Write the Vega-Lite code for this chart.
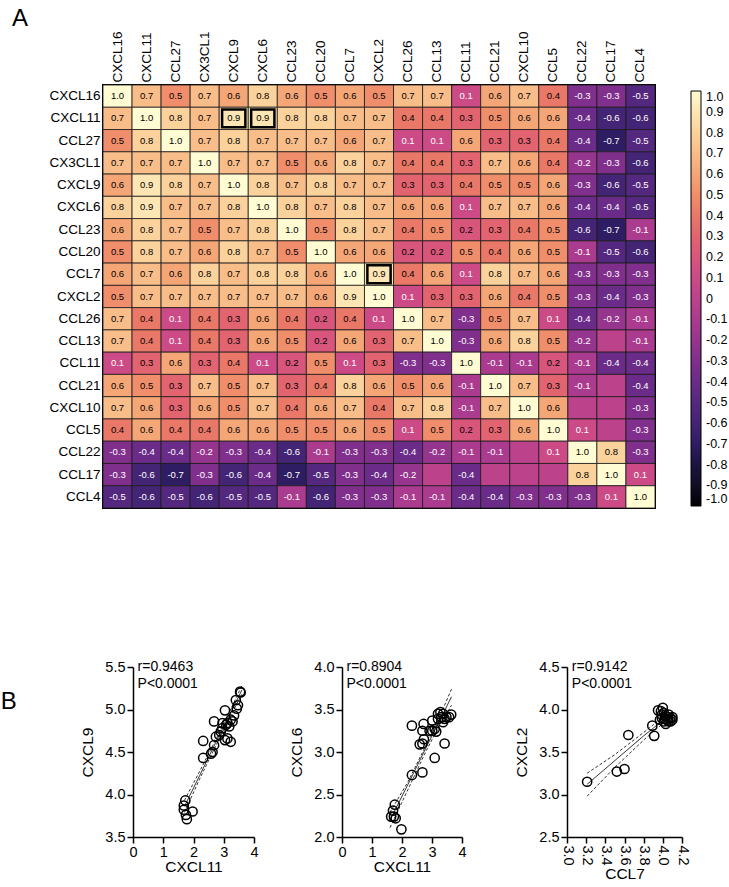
{
"$schema": "https://vega.github.io/schema/vega-lite/v6.json",
"padding": {"left": 0, "top": 5, "right": 5, "bottom": 5},
"background": "white",
"config": {
  "font": "Liberation Sans",
  "locale": {"number": {"decimal": ".", "thousands": ",", "grouping": [3], "currency": ["$", ""], "minus": "-"}},
  "axis": {"grid": false, "labelColor": "black", "titleColor": "black", "domainColor": "black", "tickColor": "black", "titleFontWeight": "normal"},
  "title": {"fontWeight": "normal", "color": "black"}
},
"datasets": {
"hm": [
{"r":"CXCL16","c":"CXCL16","v":1.0},{"r":"CXCL16","c":"CXCL11","v":0.7},{"r":"CXCL16","c":"CCL27","v":0.5},{"r":"CXCL16","c":"CX3CL1","v":0.7},{"r":"CXCL16","c":"CXCL9","v":0.6},{"r":"CXCL16","c":"CXCL6","v":0.8},{"r":"CXCL16","c":"CCL23","v":0.6},{"r":"CXCL16","c":"CCL20","v":0.5},{"r":"CXCL16","c":"CCL7","v":0.6},{"r":"CXCL16","c":"CXCL2","v":0.5},{"r":"CXCL16","c":"CCL26","v":0.7},{"r":"CXCL16","c":"CCL13","v":0.7},{"r":"CXCL16","c":"CCL11","v":0.1},{"r":"CXCL16","c":"CCL21","v":0.6},{"r":"CXCL16","c":"CXCL10","v":0.7},{"r":"CXCL16","c":"CCL5","v":0.4},{"r":"CXCL16","c":"CCL22","v":-0.3},{"r":"CXCL16","c":"CCL17","v":-0.3},{"r":"CXCL16","c":"CCL4","v":-0.5},
{"r":"CXCL11","c":"CXCL16","v":0.7},{"r":"CXCL11","c":"CXCL11","v":1.0},{"r":"CXCL11","c":"CCL27","v":0.8},{"r":"CXCL11","c":"CX3CL1","v":0.7},{"r":"CXCL11","c":"CXCL9","v":0.9},{"r":"CXCL11","c":"CXCL6","v":0.9},{"r":"CXCL11","c":"CCL23","v":0.8},{"r":"CXCL11","c":"CCL20","v":0.8},{"r":"CXCL11","c":"CCL7","v":0.7},{"r":"CXCL11","c":"CXCL2","v":0.7},{"r":"CXCL11","c":"CCL26","v":0.4},{"r":"CXCL11","c":"CCL13","v":0.4},{"r":"CXCL11","c":"CCL11","v":0.3},{"r":"CXCL11","c":"CCL21","v":0.5},{"r":"CXCL11","c":"CXCL10","v":0.6},{"r":"CXCL11","c":"CCL5","v":0.6},{"r":"CXCL11","c":"CCL22","v":-0.4},{"r":"CXCL11","c":"CCL17","v":-0.6},{"r":"CXCL11","c":"CCL4","v":-0.6},
{"r":"CCL27","c":"CXCL16","v":0.5},{"r":"CCL27","c":"CXCL11","v":0.8},{"r":"CCL27","c":"CCL27","v":1.0},{"r":"CCL27","c":"CX3CL1","v":0.7},{"r":"CCL27","c":"CXCL9","v":0.8},{"r":"CCL27","c":"CXCL6","v":0.7},{"r":"CCL27","c":"CCL23","v":0.7},{"r":"CCL27","c":"CCL20","v":0.7},{"r":"CCL27","c":"CCL7","v":0.6},{"r":"CCL27","c":"CXCL2","v":0.7},{"r":"CCL27","c":"CCL26","v":0.1},{"r":"CCL27","c":"CCL13","v":0.1},{"r":"CCL27","c":"CCL11","v":0.6},{"r":"CCL27","c":"CCL21","v":0.3},{"r":"CCL27","c":"CXCL10","v":0.3},{"r":"CCL27","c":"CCL5","v":0.4},{"r":"CCL27","c":"CCL22","v":-0.4},{"r":"CCL27","c":"CCL17","v":-0.7},{"r":"CCL27","c":"CCL4","v":-0.5},
{"r":"CX3CL1","c":"CXCL16","v":0.7},{"r":"CX3CL1","c":"CXCL11","v":0.7},{"r":"CX3CL1","c":"CCL27","v":0.7},{"r":"CX3CL1","c":"CX3CL1","v":1.0},{"r":"CX3CL1","c":"CXCL9","v":0.7},{"r":"CX3CL1","c":"CXCL6","v":0.7},{"r":"CX3CL1","c":"CCL23","v":0.5},{"r":"CX3CL1","c":"CCL20","v":0.6},{"r":"CX3CL1","c":"CCL7","v":0.8},{"r":"CX3CL1","c":"CXCL2","v":0.7},{"r":"CX3CL1","c":"CCL26","v":0.4},{"r":"CX3CL1","c":"CCL13","v":0.4},{"r":"CX3CL1","c":"CCL11","v":0.3},{"r":"CX3CL1","c":"CCL21","v":0.7},{"r":"CX3CL1","c":"CXCL10","v":0.6},{"r":"CX3CL1","c":"CCL5","v":0.4},{"r":"CX3CL1","c":"CCL22","v":-0.2},{"r":"CX3CL1","c":"CCL17","v":-0.3},{"r":"CX3CL1","c":"CCL4","v":-0.6},
{"r":"CXCL9","c":"CXCL16","v":0.6},{"r":"CXCL9","c":"CXCL11","v":0.9},{"r":"CXCL9","c":"CCL27","v":0.8},{"r":"CXCL9","c":"CX3CL1","v":0.7},{"r":"CXCL9","c":"CXCL9","v":1.0},{"r":"CXCL9","c":"CXCL6","v":0.8},{"r":"CXCL9","c":"CCL23","v":0.7},{"r":"CXCL9","c":"CCL20","v":0.8},{"r":"CXCL9","c":"CCL7","v":0.7},{"r":"CXCL9","c":"CXCL2","v":0.7},{"r":"CXCL9","c":"CCL26","v":0.3},{"r":"CXCL9","c":"CCL13","v":0.3},{"r":"CXCL9","c":"CCL11","v":0.4},{"r":"CXCL9","c":"CCL21","v":0.5},{"r":"CXCL9","c":"CXCL10","v":0.5},{"r":"CXCL9","c":"CCL5","v":0.6},{"r":"CXCL9","c":"CCL22","v":-0.3},{"r":"CXCL9","c":"CCL17","v":-0.6},{"r":"CXCL9","c":"CCL4","v":-0.5},
{"r":"CXCL6","c":"CXCL16","v":0.8},{"r":"CXCL6","c":"CXCL11","v":0.9},{"r":"CXCL6","c":"CCL27","v":0.7},{"r":"CXCL6","c":"CX3CL1","v":0.7},{"r":"CXCL6","c":"CXCL9","v":0.8},{"r":"CXCL6","c":"CXCL6","v":1.0},{"r":"CXCL6","c":"CCL23","v":0.8},{"r":"CXCL6","c":"CCL20","v":0.7},{"r":"CXCL6","c":"CCL7","v":0.8},{"r":"CXCL6","c":"CXCL2","v":0.7},{"r":"CXCL6","c":"CCL26","v":0.6},{"r":"CXCL6","c":"CCL13","v":0.6},{"r":"CXCL6","c":"CCL11","v":0.1},{"r":"CXCL6","c":"CCL21","v":0.7},{"r":"CXCL6","c":"CXCL10","v":0.7},{"r":"CXCL6","c":"CCL5","v":0.6},{"r":"CXCL6","c":"CCL22","v":-0.4},{"r":"CXCL6","c":"CCL17","v":-0.4},{"r":"CXCL6","c":"CCL4","v":-0.5},
{"r":"CCL23","c":"CXCL16","v":0.6},{"r":"CCL23","c":"CXCL11","v":0.8},{"r":"CCL23","c":"CCL27","v":0.7},{"r":"CCL23","c":"CX3CL1","v":0.5},{"r":"CCL23","c":"CXCL9","v":0.7},{"r":"CCL23","c":"CXCL6","v":0.8},{"r":"CCL23","c":"CCL23","v":1.0},{"r":"CCL23","c":"CCL20","v":0.5},{"r":"CCL23","c":"CCL7","v":0.8},{"r":"CCL23","c":"CXCL2","v":0.7},{"r":"CCL23","c":"CCL26","v":0.4},{"r":"CCL23","c":"CCL13","v":0.5},{"r":"CCL23","c":"CCL11","v":0.2},{"r":"CCL23","c":"CCL21","v":0.3},{"r":"CCL23","c":"CXCL10","v":0.4},{"r":"CCL23","c":"CCL5","v":0.5},{"r":"CCL23","c":"CCL22","v":-0.6},{"r":"CCL23","c":"CCL17","v":-0.7},{"r":"CCL23","c":"CCL4","v":-0.1},
{"r":"CCL20","c":"CXCL16","v":0.5},{"r":"CCL20","c":"CXCL11","v":0.8},{"r":"CCL20","c":"CCL27","v":0.7},{"r":"CCL20","c":"CX3CL1","v":0.6},{"r":"CCL20","c":"CXCL9","v":0.8},{"r":"CCL20","c":"CXCL6","v":0.7},{"r":"CCL20","c":"CCL23","v":0.5},{"r":"CCL20","c":"CCL20","v":1.0},{"r":"CCL20","c":"CCL7","v":0.6},{"r":"CCL20","c":"CXCL2","v":0.6},{"r":"CCL20","c":"CCL26","v":0.2},{"r":"CCL20","c":"CCL13","v":0.2},{"r":"CCL20","c":"CCL11","v":0.5},{"r":"CCL20","c":"CCL21","v":0.4},{"r":"CCL20","c":"CXCL10","v":0.6},{"r":"CCL20","c":"CCL5","v":0.5},{"r":"CCL20","c":"CCL22","v":-0.1},{"r":"CCL20","c":"CCL17","v":-0.5},{"r":"CCL20","c":"CCL4","v":-0.6},
{"r":"CCL7","c":"CXCL16","v":0.6},{"r":"CCL7","c":"CXCL11","v":0.7},{"r":"CCL7","c":"CCL27","v":0.6},{"r":"CCL7","c":"CX3CL1","v":0.8},{"r":"CCL7","c":"CXCL9","v":0.7},{"r":"CCL7","c":"CXCL6","v":0.8},{"r":"CCL7","c":"CCL23","v":0.8},{"r":"CCL7","c":"CCL20","v":0.6},{"r":"CCL7","c":"CCL7","v":1.0},{"r":"CCL7","c":"CXCL2","v":0.9},{"r":"CCL7","c":"CCL26","v":0.4},{"r":"CCL7","c":"CCL13","v":0.6},{"r":"CCL7","c":"CCL11","v":0.1},{"r":"CCL7","c":"CCL21","v":0.8},{"r":"CCL7","c":"CXCL10","v":0.7},{"r":"CCL7","c":"CCL5","v":0.6},{"r":"CCL7","c":"CCL22","v":-0.3},{"r":"CCL7","c":"CCL17","v":-0.3},{"r":"CCL7","c":"CCL4","v":-0.3},
{"r":"CXCL2","c":"CXCL16","v":0.5},{"r":"CXCL2","c":"CXCL11","v":0.7},{"r":"CXCL2","c":"CCL27","v":0.7},{"r":"CXCL2","c":"CX3CL1","v":0.7},{"r":"CXCL2","c":"CXCL9","v":0.7},{"r":"CXCL2","c":"CXCL6","v":0.7},{"r":"CXCL2","c":"CCL23","v":0.7},{"r":"CXCL2","c":"CCL20","v":0.6},{"r":"CXCL2","c":"CCL7","v":0.9},{"r":"CXCL2","c":"CXCL2","v":1.0},{"r":"CXCL2","c":"CCL26","v":0.1},{"r":"CXCL2","c":"CCL13","v":0.3},{"r":"CXCL2","c":"CCL11","v":0.3},{"r":"CXCL2","c":"CCL21","v":0.6},{"r":"CXCL2","c":"CXCL10","v":0.4},{"r":"CXCL2","c":"CCL5","v":0.5},{"r":"CXCL2","c":"CCL22","v":-0.3},{"r":"CXCL2","c":"CCL17","v":-0.4},{"r":"CXCL2","c":"CCL4","v":-0.3},
{"r":"CCL26","c":"CXCL16","v":0.7},{"r":"CCL26","c":"CXCL11","v":0.4},{"r":"CCL26","c":"CCL27","v":0.1},{"r":"CCL26","c":"CX3CL1","v":0.4},{"r":"CCL26","c":"CXCL9","v":0.3},{"r":"CCL26","c":"CXCL6","v":0.6},{"r":"CCL26","c":"CCL23","v":0.4},{"r":"CCL26","c":"CCL20","v":0.2},{"r":"CCL26","c":"CCL7","v":0.4},{"r":"CCL26","c":"CXCL2","v":0.1},{"r":"CCL26","c":"CCL26","v":1.0},{"r":"CCL26","c":"CCL13","v":0.7},{"r":"CCL26","c":"CCL11","v":-0.3},{"r":"CCL26","c":"CCL21","v":0.5},{"r":"CCL26","c":"CXCL10","v":0.7},{"r":"CCL26","c":"CCL5","v":0.1},{"r":"CCL26","c":"CCL22","v":-0.4},{"r":"CCL26","c":"CCL17","v":-0.2},{"r":"CCL26","c":"CCL4","v":-0.1},
{"r":"CCL13","c":"CXCL16","v":0.7},{"r":"CCL13","c":"CXCL11","v":0.4},{"r":"CCL13","c":"CCL27","v":0.1},{"r":"CCL13","c":"CX3CL1","v":0.4},{"r":"CCL13","c":"CXCL9","v":0.3},{"r":"CCL13","c":"CXCL6","v":0.6},{"r":"CCL13","c":"CCL23","v":0.5},{"r":"CCL13","c":"CCL20","v":0.2},{"r":"CCL13","c":"CCL7","v":0.6},{"r":"CCL13","c":"CXCL2","v":0.3},{"r":"CCL13","c":"CCL26","v":0.7},{"r":"CCL13","c":"CCL13","v":1.0},{"r":"CCL13","c":"CCL11","v":-0.3},{"r":"CCL13","c":"CCL21","v":0.6},{"r":"CCL13","c":"CXCL10","v":0.8},{"r":"CCL13","c":"CCL5","v":0.5},{"r":"CCL13","c":"CCL22","v":-0.2},{"r":"CCL13","c":"CCL17","v":0,"b":true},{"r":"CCL13","c":"CCL4","v":-0.1},
{"r":"CCL11","c":"CXCL16","v":0.1},{"r":"CCL11","c":"CXCL11","v":0.3},{"r":"CCL11","c":"CCL27","v":0.6},{"r":"CCL11","c":"CX3CL1","v":0.3},{"r":"CCL11","c":"CXCL9","v":0.4},{"r":"CCL11","c":"CXCL6","v":0.1},{"r":"CCL11","c":"CCL23","v":0.2},{"r":"CCL11","c":"CCL20","v":0.5},{"r":"CCL11","c":"CCL7","v":0.1},{"r":"CCL11","c":"CXCL2","v":0.3},{"r":"CCL11","c":"CCL26","v":-0.3},{"r":"CCL11","c":"CCL13","v":-0.3},{"r":"CCL11","c":"CCL11","v":1.0},{"r":"CCL11","c":"CCL21","v":-0.1},{"r":"CCL11","c":"CXCL10","v":-0.1},{"r":"CCL11","c":"CCL5","v":0.2},{"r":"CCL11","c":"CCL22","v":-0.1},{"r":"CCL11","c":"CCL17","v":-0.4},{"r":"CCL11","c":"CCL4","v":-0.4},
{"r":"CCL21","c":"CXCL16","v":0.6},{"r":"CCL21","c":"CXCL11","v":0.5},{"r":"CCL21","c":"CCL27","v":0.3},{"r":"CCL21","c":"CX3CL1","v":0.7},{"r":"CCL21","c":"CXCL9","v":0.5},{"r":"CCL21","c":"CXCL6","v":0.7},{"r":"CCL21","c":"CCL23","v":0.3},{"r":"CCL21","c":"CCL20","v":0.4},{"r":"CCL21","c":"CCL7","v":0.8},{"r":"CCL21","c":"CXCL2","v":0.6},{"r":"CCL21","c":"CCL26","v":0.5},{"r":"CCL21","c":"CCL13","v":0.6},{"r":"CCL21","c":"CCL11","v":-0.1},{"r":"CCL21","c":"CCL21","v":1.0},{"r":"CCL21","c":"CXCL10","v":0.7},{"r":"CCL21","c":"CCL5","v":0.3},{"r":"CCL21","c":"CCL22","v":-0.1},{"r":"CCL21","c":"CCL17","v":0,"b":true},{"r":"CCL21","c":"CCL4","v":-0.4},
{"r":"CXCL10","c":"CXCL16","v":0.7},{"r":"CXCL10","c":"CXCL11","v":0.6},{"r":"CXCL10","c":"CCL27","v":0.3},{"r":"CXCL10","c":"CX3CL1","v":0.6},{"r":"CXCL10","c":"CXCL9","v":0.5},{"r":"CXCL10","c":"CXCL6","v":0.7},{"r":"CXCL10","c":"CCL23","v":0.4},{"r":"CXCL10","c":"CCL20","v":0.6},{"r":"CXCL10","c":"CCL7","v":0.7},{"r":"CXCL10","c":"CXCL2","v":0.4},{"r":"CXCL10","c":"CCL26","v":0.7},{"r":"CXCL10","c":"CCL13","v":0.8},{"r":"CXCL10","c":"CCL11","v":-0.1},{"r":"CXCL10","c":"CCL21","v":0.7},{"r":"CXCL10","c":"CXCL10","v":1.0},{"r":"CXCL10","c":"CCL5","v":0.6},{"r":"CXCL10","c":"CCL22","v":0,"b":true},{"r":"CXCL10","c":"CCL17","v":0,"b":true},{"r":"CXCL10","c":"CCL4","v":-0.3},
{"r":"CCL5","c":"CXCL16","v":0.4},{"r":"CCL5","c":"CXCL11","v":0.6},{"r":"CCL5","c":"CCL27","v":0.4},{"r":"CCL5","c":"CX3CL1","v":0.4},{"r":"CCL5","c":"CXCL9","v":0.6},{"r":"CCL5","c":"CXCL6","v":0.6},{"r":"CCL5","c":"CCL23","v":0.5},{"r":"CCL5","c":"CCL20","v":0.5},{"r":"CCL5","c":"CCL7","v":0.6},{"r":"CCL5","c":"CXCL2","v":0.5},{"r":"CCL5","c":"CCL26","v":0.1},{"r":"CCL5","c":"CCL13","v":0.5},{"r":"CCL5","c":"CCL11","v":0.2},{"r":"CCL5","c":"CCL21","v":0.3},{"r":"CCL5","c":"CXCL10","v":0.6},{"r":"CCL5","c":"CCL5","v":1.0},{"r":"CCL5","c":"CCL22","v":0.1},{"r":"CCL5","c":"CCL17","v":0,"b":true},{"r":"CCL5","c":"CCL4","v":-0.3},
{"r":"CCL22","c":"CXCL16","v":-0.3},{"r":"CCL22","c":"CXCL11","v":-0.4},{"r":"CCL22","c":"CCL27","v":-0.4},{"r":"CCL22","c":"CX3CL1","v":-0.2},{"r":"CCL22","c":"CXCL9","v":-0.3},{"r":"CCL22","c":"CXCL6","v":-0.4},{"r":"CCL22","c":"CCL23","v":-0.6},{"r":"CCL22","c":"CCL20","v":-0.1},{"r":"CCL22","c":"CCL7","v":-0.3},{"r":"CCL22","c":"CXCL2","v":-0.3},{"r":"CCL22","c":"CCL26","v":-0.4},{"r":"CCL22","c":"CCL13","v":-0.2},{"r":"CCL22","c":"CCL11","v":-0.1},{"r":"CCL22","c":"CCL21","v":-0.1},{"r":"CCL22","c":"CXCL10","v":0,"b":true},{"r":"CCL22","c":"CCL5","v":0.1},{"r":"CCL22","c":"CCL22","v":1.0},{"r":"CCL22","c":"CCL17","v":0.8},{"r":"CCL22","c":"CCL4","v":-0.3},
{"r":"CCL17","c":"CXCL16","v":-0.3},{"r":"CCL17","c":"CXCL11","v":-0.6},{"r":"CCL17","c":"CCL27","v":-0.7},{"r":"CCL17","c":"CX3CL1","v":-0.3},{"r":"CCL17","c":"CXCL9","v":-0.6},{"r":"CCL17","c":"CXCL6","v":-0.4},{"r":"CCL17","c":"CCL23","v":-0.7},{"r":"CCL17","c":"CCL20","v":-0.5},{"r":"CCL17","c":"CCL7","v":-0.3},{"r":"CCL17","c":"CXCL2","v":-0.4},{"r":"CCL17","c":"CCL26","v":-0.2},{"r":"CCL17","c":"CCL13","v":0,"b":true},{"r":"CCL17","c":"CCL11","v":-0.4},{"r":"CCL17","c":"CCL21","v":0,"b":true},{"r":"CCL17","c":"CXCL10","v":0,"b":true},{"r":"CCL17","c":"CCL5","v":0,"b":true},{"r":"CCL17","c":"CCL22","v":0.8},{"r":"CCL17","c":"CCL17","v":1.0},{"r":"CCL17","c":"CCL4","v":0.1},
{"r":"CCL4","c":"CXCL16","v":-0.5},{"r":"CCL4","c":"CXCL11","v":-0.6},{"r":"CCL4","c":"CCL27","v":-0.5},{"r":"CCL4","c":"CX3CL1","v":-0.6},{"r":"CCL4","c":"CXCL9","v":-0.5},{"r":"CCL4","c":"CXCL6","v":-0.5},{"r":"CCL4","c":"CCL23","v":-0.1},{"r":"CCL4","c":"CCL20","v":-0.6},{"r":"CCL4","c":"CCL7","v":-0.3},{"r":"CCL4","c":"CXCL2","v":-0.3},{"r":"CCL4","c":"CCL26","v":-0.1},{"r":"CCL4","c":"CCL13","v":-0.1},{"r":"CCL4","c":"CCL11","v":-0.4},{"r":"CCL4","c":"CCL21","v":-0.4},{"r":"CCL4","c":"CXCL10","v":-0.3},{"r":"CCL4","c":"CCL5","v":-0.3},{"r":"CCL4","c":"CCL22","v":-0.3},{"r":"CCL4","c":"CCL17","v":0.1},{"r":"CCL4","c":"CCL4","v":1.0}
],
"hl": [{"r":"CXCL11","c":"CXCL9"},{"r":"CXCL11","c":"CXCL6"},{"r":"CCL7","c":"CXCL2"}],
"s1": [{"x":1.68,"y":3.87},{"x":1.68,"y":3.82},{"x":1.73,"y":3.93},{"x":1.75,"y":3.76},{"x":1.78,"y":3.71},{"x":1.97,"y":3.8},{"x":2.32,"y":4.43},{"x":2.32,"y":4.63},{"x":2.58,"y":4.48},{"x":2.63,"y":4.5},{"x":2.68,"y":4.58},{"x":2.74,"y":4.68},{"x":2.68,"y":4.86},{"x":2.85,"y":4.7},{"x":2.9,"y":4.74},{"x":2.96,"y":4.84},{"x":3.04,"y":4.99},{"x":3.04,"y":4.64},{"x":3.12,"y":4.66},{"x":3.23,"y":4.62},{"x":3.12,"y":4.84},{"x":3.18,"y":4.8},{"x":3.23,"y":4.88},{"x":3.29,"y":4.86},{"x":3.34,"y":4.93},{"x":3.43,"y":5.01},{"x":3.47,"y":5.05},{"x":3.4,"y":5.11},{"x":3.54,"y":5.21},{"x":3.56,"y":5.2},{"x":2.95,"y":4.78},{"x":3.08,"y":4.82}],
"s1l": [{"s":"fit","x":1.7,"y":3.86},{"s":"fit","x":2.2,"y":4.22},{"s":"fit","x":2.8,"y":4.66},{"s":"fit","x":3.2,"y":4.94},{"s":"fit","x":3.6,"y":5.23},
 {"s":"up","x":1.7,"y":3.93},{"s":"up","x":2.2,"y":4.27},{"s":"up","x":2.8,"y":4.69},{"s":"up","x":3.2,"y":4.98},{"s":"up","x":3.6,"y":5.28},
 {"s":"lo","x":1.7,"y":3.79},{"s":"lo","x":2.2,"y":4.18},{"s":"lo","x":2.8,"y":4.62},{"s":"lo","x":3.2,"y":4.91},{"s":"lo","x":3.6,"y":5.18}],
"t1": [{"x":0.15,"y":5.5,"t":"r=0.9463"},{"x":0.15,"y":5.3,"t":"P<0.0001"}],
"s2": [{"x":1.64,"y":2.24},{"x":1.73,"y":2.24},{"x":1.79,"y":2.22},{"x":1.7,"y":2.31},{"x":1.76,"y":2.38},{"x":1.98,"y":2.09},{"x":2.33,"y":2.73},{"x":2.33,"y":3.31},{"x":2.68,"y":2.76},{"x":2.59,"y":3.09},{"x":2.68,"y":3.1},{"x":2.73,"y":3.15},{"x":2.68,"y":3.25},{"x":2.72,"y":3.33},{"x":2.92,"y":3.25},{"x":3.01,"y":3.25},{"x":3.09,"y":3.27},{"x":3.01,"y":3.37},{"x":3.09,"y":2.93},{"x":3.14,"y":3.24},{"x":3.2,"y":3.45},{"x":3.28,"y":3.47},{"x":3.31,"y":3.41},{"x":3.37,"y":3.35},{"x":3.42,"y":3.39},{"x":3.48,"y":3.41},{"x":3.57,"y":3.41},{"x":3.64,"y":3.44},{"x":3.42,"y":3.1},{"x":3.2,"y":3.39},{"x":3.37,"y":3.45}],
"s2l": [{"s":"fit","x":1.6,"y":2.2},{"s":"fit","x":2.2,"y":2.62},{"s":"fit","x":2.8,"y":3.05},{"s":"fit","x":3.2,"y":3.33},{"s":"fit","x":3.65,"y":3.65},
 {"s":"up","x":1.6,"y":2.29},{"s":"up","x":2.2,"y":2.65},{"s":"up","x":2.8,"y":3.08},{"s":"up","x":3.2,"y":3.37},{"s":"up","x":3.65,"y":3.74},
 {"s":"lo","x":1.6,"y":2.11},{"s":"lo","x":2.2,"y":2.56},{"s":"lo","x":2.8,"y":3.01},{"s":"lo","x":3.2,"y":3.28},{"s":"lo","x":3.65,"y":3.55}],
"t2": [{"x":0.15,"y":4.0,"t":"r=0.8904"},{"x":0.15,"y":3.8,"t":"P<0.0001"}],
"s3": [{"x":3.21,"y":3.15},{"x":3.52,"y":3.27},{"x":3.6,"y":3.3},{"x":3.64,"y":3.7},{"x":3.91,"y":3.69},{"x":3.89,"y":3.81},{"x":3.95,"y":3.99},{"x":4.0,"y":4.02},{"x":3.98,"y":3.98},{"x":3.99,"y":3.9},{"x":4.01,"y":3.86},{"x":4.03,"y":3.92},{"x":4.05,"y":3.88},{"x":4.06,"y":3.94},{"x":4.08,"y":3.9},{"x":4.1,"y":3.91},{"x":4.03,"y":3.83},{"x":3.99,"y":3.94},{"x":4.06,"y":3.86},{"x":4.01,"y":3.96},{"x":4.05,"y":3.91},{"x":4.08,"y":3.86},{"x":3.97,"y":3.88},{"x":4.1,"y":3.88},{"x":4.02,"y":3.89}],
"s3l": [{"s":"fit","x":3.21,"y":3.12},{"s":"fit","x":3.5,"y":3.4},{"s":"fit","x":3.8,"y":3.69},{"s":"fit","x":3.9,"y":3.78},{"s":"fit","x":4.05,"y":3.93},
 {"s":"up","x":3.21,"y":3.25},{"s":"up","x":3.5,"y":3.47},{"s":"up","x":3.8,"y":3.73},{"s":"up","x":3.9,"y":3.82},{"s":"up","x":4.05,"y":3.97},
 {"s":"lo","x":3.21,"y":2.98},{"s":"lo","x":3.5,"y":3.32},{"s":"lo","x":3.8,"y":3.64},{"s":"lo","x":3.9,"y":3.74},{"s":"lo","x":4.05,"y":3.88}],
"t3": [{"x":3.05,"y":4.5,"t":"r=0.9142"},{"x":3.05,"y":4.3,"t":"P<0.0001"}]
},
"columns": 1,
"align": "none",
"spacing": 145,
"resolve": {"scale": {"color": "independent"}, "legend": {"color": "independent"}},
"concat": [
{
  "title": {"text": "A", "anchor": "start", "fontSize": 24, "dx": 11, "offset": 0},
  "width": 552, "height": 423,
  "view": {"stroke": "black", "strokeWidth": 2},
  "encoding": {
    "x": {"field": "c", "type": "nominal", "sort": ["CXCL16","CXCL11","CCL27","CX3CL1","CXCL9","CXCL6","CCL23","CCL20","CCL7","CXCL2","CCL26","CCL13","CCL11","CCL21","CXCL10","CCL5","CCL22","CCL17","CCL4"],
      "axis": {"orient": "top", "labelAngle": -90, "domain": false, "ticks": false, "labelFontSize": 13.5, "labelPadding": 3, "title": null}},
    "y": {"field": "r", "type": "nominal", "sort": ["CXCL16","CXCL11","CCL27","CX3CL1","CXCL9","CXCL6","CCL23","CCL20","CCL7","CXCL2","CCL26","CCL13","CCL11","CCL21","CXCL10","CCL5","CCL22","CCL17","CCL4"],
      "axis": {"domain": false, "ticks": false, "labelFontSize": 13.5, "labelPadding": 3, "title": null, "minExtent": 102}}
  },
  "layer": [
    {"data": {"name": "hm"}, "mark": {"type": "rect", "stroke": "#1a1a1a", "strokeWidth": 0.8},
     "encoding": {"color": {"field": "v", "type": "quantitative",
       "scale": {"domain": [-1,-0.8,-0.7,-0.6,-0.5,-0.4,-0.3,-0.2,-0.1,0,0.1,0.2,0.3,0.4,0.5,0.6,0.7,0.8,0.9,1],
                 "range": ["#000004","#1c1440","#2f1d63","#432475","#55287f","#6a2c88","#80308c","#96358e","#ab3b8e","#bd428c","#cc4a86","#d8567c","#e26470","#ea7868","#f08e6b","#f4a677","#f8bd89","#fbd29c","#fde6b4","#fffbd2"]},
       "legend": {"orient": "right", "offset": 30, "padding": 6, "direction": "vertical", "gradientLength": 415, "gradientThickness": 10, "title": null,
         "values": [1,0.9,0.8,0.7,0.6,0.5,0.4,0.3,0.2,0.1,0,-0.1,-0.2,-0.3,-0.4,-0.5,-0.6,-0.7,-0.8,-0.9,-1],
         "labelExpr": "datum.value === 0 ? '0' : replace(format(datum.value, '.1f'), '\u2212', '-')",
         "labelFontSize": 12.5, "labelOffset": 5, "labelOverlap": false, "labelBaseline": "middle", "labelColor": "black",
         "gradientStrokeColor": "black", "gradientStrokeWidth": 1}}}},
    {"data": {"name": "hm"}, "mark": {"type": "text", "fontSize": 9.5},
     "encoding": {"text": {"condition": {"test": "datum.b", "value": ""}, "field": "v", "format": ".1f"},
                  "color": {"condition": {"test": "datum.v >= 0.15", "value": "black"}, "value": "white"}}},
    {"data": {"name": "hl"}, "mark": {"type": "rect", "fill": null, "stroke": "black", "strokeWidth": 2.5, "width": {"band": 0.8}, "height": {"band": 0.8}}}
  ]
},
{
  "title": {"text": "B", "anchor": "start", "fontSize": 24, "dx": -80, "dy": 55, "offset": 0},
  "spacing": 47,
  "hconcat": [
    {"spacing": 30, "hconcat": [
      {"width": 151, "height": 170, "view": {"stroke": null},
       "encoding": {
         "x": {"field": "x", "type": "quantitative", "scale": {"domain": [0, 4], "nice": false, "range": [30, 151]},
               "axis": {"values": [0,1,2,3,4], "title": "CXCL11", "labelFontSize": 14.5, "titleFontSize": 15.5, "domainWidth": 1.5, "tickWidth": 1.5, "tickSize": 6, "labelPadding": 2, "titlePadding": 1, "labelFlush": false}},
         "y": {"field": "y", "type": "quantitative", "scale": {"domain": [3.5, 5.5], "nice": false, "zero": false},
               "axis": {"values": [3.5,4,4.5,5,5.5], "format": ".1f", "title": "CXCL9", "offset": -30, "labelFontSize": 14.5, "titleFontSize": 15.5, "domainWidth": 1.5, "tickWidth": 1.5, "tickSize": 6, "labelPadding": 2, "minExtent": 28, "titlePadding": 9, "labelFlush": false}}
       },
       "layer": [
         {"data": {"name": "s1l"}, "transform": [{"filter": "datum.s != 'fit'"}], "mark": {"type": "line", "color": "black", "strokeWidth": 0.8, "strokeDash": [3, 2]}, "encoding": {"detail": {"field": "s"}}},
         {"data": {"name": "s1l"}, "transform": [{"filter": "datum.s == 'fit'"}], "mark": {"type": "line", "color": "black", "strokeWidth": 0.8}, "encoding": {}},
         {"data": {"name": "s1"}, "mark": {"type": "point", "shape": "circle", "filled": false, "color": "black", "size": 85, "strokeWidth": 1.5, "opacity": 1}},
         {"data": {"name": "t1"}, "mark": {"type": "text", "align": "left", "baseline": "middle", "fontSize": 14, "color": "black"}, "encoding": {"text": {"field": "t"}}}
       ]},
      {"width": 120, "height": 170, "view": {"stroke": null},
       "encoding": {
         "x": {"field": "x", "type": "quantitative", "scale": {"domain": [0, 4], "nice": false},
               "axis": {"values": [0,1,2,3,4], "title": "CXCL11", "labelFontSize": 14.5, "titleFontSize": 15.5, "domainWidth": 1.5, "tickWidth": 1.5, "tickSize": 6, "labelPadding": 2, "titlePadding": 1, "labelFlush": false}},
         "y": {"field": "y", "type": "quantitative", "scale": {"domain": [2, 4], "nice": false, "zero": false},
               "axis": {"values": [2,2.5,3,3.5,4], "format": ".1f", "title": "CXCL6", "labelFontSize": 14.5, "titleFontSize": 15.5, "domainWidth": 1.5, "tickWidth": 1.5, "tickSize": 6, "labelPadding": 2, "minExtent": 28, "titlePadding": 9, "labelFlush": false}}
       },
       "layer": [
         {"data": {"name": "s2l"}, "transform": [{"filter": "datum.s != 'fit'"}], "mark": {"type": "line", "color": "black", "strokeWidth": 0.8, "strokeDash": [3, 2]}, "encoding": {"detail": {"field": "s"}}},
         {"data": {"name": "s2l"}, "transform": [{"filter": "datum.s == 'fit'"}], "mark": {"type": "line", "color": "black", "strokeWidth": 0.8}, "encoding": {}},
         {"data": {"name": "s2"}, "mark": {"type": "point", "shape": "circle", "filled": false, "color": "black", "size": 85, "strokeWidth": 1.5, "opacity": 1}},
         {"data": {"name": "t2"}, "mark": {"type": "text", "align": "left", "baseline": "middle", "fontSize": 14, "color": "black"}, "encoding": {"text": {"field": "t"}}}
       ]}
    ]},
    {"width": 115, "height": 170, "view": {"stroke": null},
     "encoding": {
       "x": {"field": "x", "type": "quantitative", "scale": {"domain": [3.0, 4.2], "nice": false, "zero": false},
             "axis": {"values": [3.0,3.2,3.4,3.6,3.8,4.0,4.2], "format": ".1f", "labelAngle": 90, "title": "CCL7", "labelFontSize": 14.5, "titleFontSize": 15.5, "domainWidth": 1.5, "tickWidth": 1.5, "tickSize": 6, "labelPadding": 2, "titlePadding": 1, "labelFlush": false}},
       "y": {"field": "y", "type": "quantitative", "scale": {"domain": [2.5, 4.5], "nice": false, "zero": false},
             "axis": {"values": [2.5,3,3.5,4,4.5], "format": ".1f", "title": "CXCL2", "labelFontSize": 14.5, "titleFontSize": 15.5, "domainWidth": 1.5, "tickWidth": 1.5, "tickSize": 6, "labelPadding": 2, "minExtent": 28, "titlePadding": 9, "labelFlush": false}}
     },
     "layer": [
       {"data": {"name": "s3l"}, "transform": [{"filter": "datum.s != 'fit'"}], "mark": {"type": "line", "color": "black", "strokeWidth": 0.8, "strokeDash": [3, 2]}, "encoding": {"detail": {"field": "s"}}},
       {"data": {"name": "s3l"}, "transform": [{"filter": "datum.s == 'fit'"}], "mark": {"type": "line", "color": "black", "strokeWidth": 0.8}, "encoding": {}},
       {"data": {"name": "s3"}, "mark": {"type": "point", "shape": "circle", "filled": false, "color": "black", "size": 85, "strokeWidth": 1.5, "opacity": 1}},
       {"data": {"name": "t3"}, "mark": {"type": "text", "align": "left", "baseline": "middle", "fontSize": 14, "color": "black"}, "encoding": {"text": {"field": "t"}}}
     ]}
  ]
}
]
}
